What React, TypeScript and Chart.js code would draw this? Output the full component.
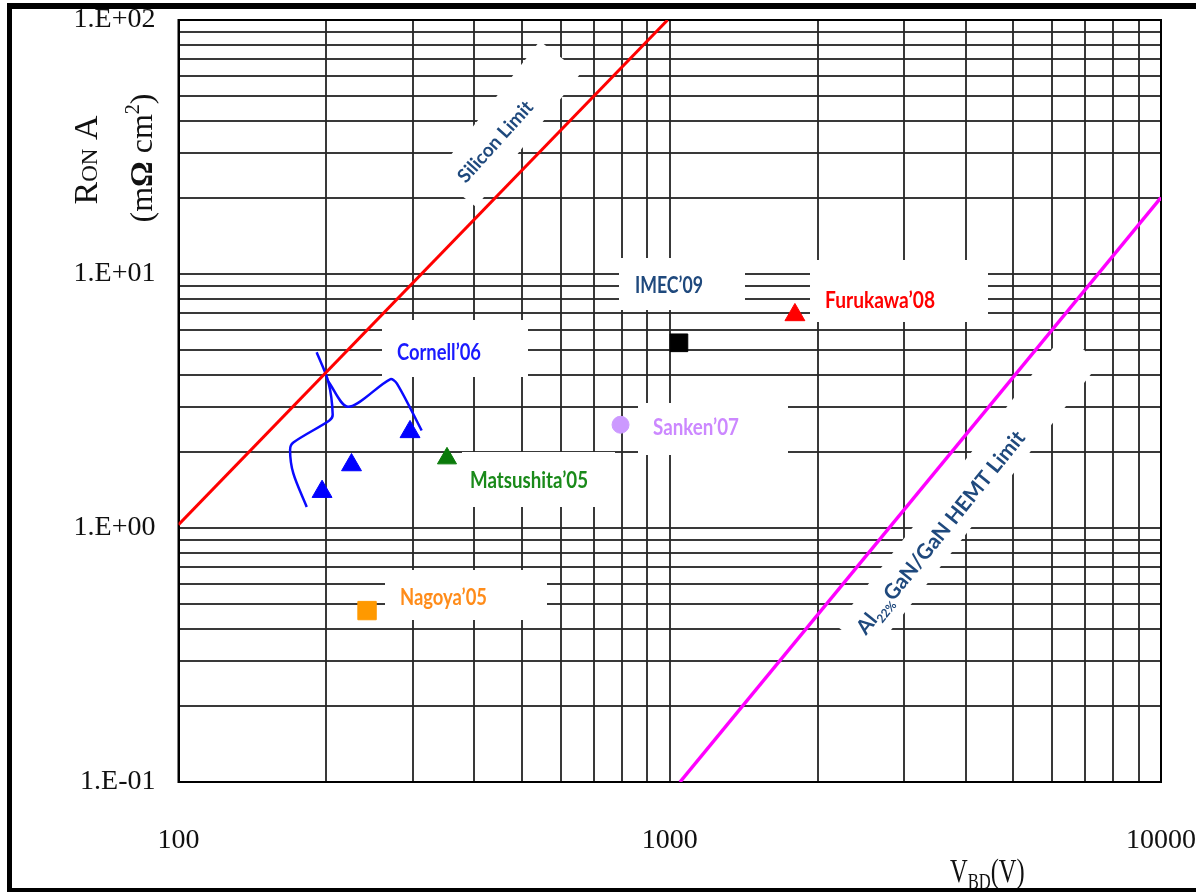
import React, { useEffect, useRef } from 'react';
import { Chart, registerables } from 'chart.js';

Chart.register(...registerables);

// ---------- axis ticks ----------
const xTickValues = [
  100, 200, 300, 400, 500, 600, 700, 800, 900,
  1000, 2000, 3000, 4000, 5000, 6000, 7000, 8000, 9000,
  10000,
];
const yTickValues = [
  0.1, 0.2, 0.3, 0.4, 0.5, 0.6, 0.7, 0.8, 0.9,
  1, 2, 3, 4, 5, 6, 7, 8, 9,
  10, 20, 30, 40, 50, 60, 70, 80, 90,
  100,
];

// ---------- series ----------
const siliconLimit = [
  { x: 100, y: 1.03 },
  { x: 990, y: 100 },
];
const ganLimit = [
  { x: 1049, y: 0.1 },
  { x: 10000, y: 20 },
];
const cornellCurveA = [
  { x: 191.1, y: 4.92 },
  { x: 201.8, y: 3.77 },
  { x: 206.0, y: 2.79 },
  { x: 202.8, y: 2.65 },
  { x: 171.3, y: 2.17 },
  { x: 168.7, y: 2.03 },
  { x: 171.3, y: 1.64 },
  { x: 182.4, y: 1.21 },
];
const cornellCurveB = [
  { x: 201.8, y: 3.77 },
  { x: 221.6, y: 3.0 },
  { x: 269.6, y: 3.85 },
  { x: 278.2, y: 3.71 },
  { x: 312.6, y: 2.42 },
];
const cornell = [
  { x: 196, y: 1.39 },
  { x: 225, y: 1.77 },
  { x: 296, y: 2.39 },
];
const matsushita = [{ x: 352, y: 1.88 }];
const furukawa = [{ x: 1798, y: 6.9 }];
const nagoya = [{ x: 242, y: 0.473 }];
const imec = [{ x: 1044, y: 5.36 }];
const sanken = [{ x: 794, y: 2.55 }];

// ---------- helpers ----------
type Seg = { t: string; font: string; dy?: number };

function drawSegs(
  ctx: CanvasRenderingContext2D,
  segs: Seg[],
  x: number,
  y: number,
  angle: number,
  color: string,
  align: 'center' | 'left',
  sx = 1,
  targetWidth?: number
) {
  ctx.save();
  ctx.translate(x, y);
  ctx.rotate(angle);
  ctx.fillStyle = color;
  ctx.textBaseline = 'alphabetic';
  ctx.textAlign = 'left';
  const widths = segs.map((s) => {
    ctx.font = s.font;
    return ctx.measureText(s.t).width;
  });
  const total = widths.reduce((a, b) => a + b, 0);
  const scaleX = targetWidth ? targetWidth / total : sx;
  ctx.scale(scaleX, 1);
  let cx = align === 'center' ? -total / 2 : 0;
  segs.forEach((s, i) => {
    ctx.font = s.font;
    ctx.fillText(s.t, cx, s.dy || 0);
    cx += widths[i];
  });
  ctx.restore();
}

const LBL = 'bold 23px Lato, "Open Sans", sans-serif';
const SERIF = '"Liberation Serif", "Times New Roman", serif';

const labelBoxes = [
  { x1: 382, y1: 320, x2: 528, y2: 377 },
  { x1: 462, y1: 452, x2: 615, y2: 507 },
  { x1: 385, y1: 570, x2: 547, y2: 620 },
  { x1: 619, y1: 258, x2: 745, y2: 310 },
  { x1: 810, y1: 260, x2: 988, y2: 322 },
  { x1: 638, y1: 403, x2: 788, y2: 455 },
];
const rotBoxes = [
  { cx: 508, cy: 124, len: 170, wid: 52, ang: -52 },
  { cx: 968, cy: 494, len: 370, wid: 46, ang: -52 },
];
const labels = [
  { text: 'Cornell\u201906', x: 439, y: 360, w: 84, color: '#1a1aff' },
  { text: 'Matsushita\u201905', x: 529, y: 488, w: 118, color: '#1a8a1a' },
  { text: 'Nagoya\u201905', x: 443.5, y: 605, w: 87, color: '#ff8c1a' },
  { text: 'IMEC\u201909', x: 669, y: 293, w: 68, color: '#1f497d' },
  { text: 'Furukawa\u201908', x: 880, y: 308, w: 110, color: '#ff0000' },
  { text: 'Sanken\u201907', x: 696, y: 435, w: 86, color: '#cc88ff' },
];

const annotPlugin = {
  id: 'annot',
  beforeDatasetsDraw(chart: any) {
    const ctx: CanvasRenderingContext2D = chart.ctx;
    const a = chart.chartArea;
    ctx.save();
    ctx.fillStyle = '#ffffff';
    labelBoxes.forEach((b) => ctx.fillRect(b.x1, b.y1, b.x2 - b.x1, b.y2 - b.y1));
    rotBoxes.forEach((b) => {
      ctx.save();
      ctx.translate(b.cx, b.cy);
      ctx.rotate((b.ang * Math.PI) / 180);
      ctx.fillRect(-b.len / 2, -b.wid / 2, b.len, b.wid);
      ctx.restore();
    });
    ctx.strokeStyle = '#000';
    ctx.lineWidth = 2;
    ctx.strokeRect(a.left, a.top, a.right - a.left, a.bottom - a.top);
    ctx.restore();
  },
  afterDatasetsDraw(chart: any) {
    const ctx: CanvasRenderingContext2D = chart.ctx;
    labels.forEach((l) =>
      drawSegs(ctx, [{ t: l.text, font: LBL }], l.x, l.y, 0, l.color, 'center', 1, l.w)
    );
    drawSegs(
      ctx,
      [{ t: 'Silicon Limit', font: 'bold 19px Lato, sans-serif' }],
      500,
      146,
      (-48 * Math.PI) / 180,
      '#1f497d',
      'center'
    );
    drawSegs(
      ctx,
      [
        { t: 'Al', font: 'bold 21px Lato, sans-serif' },
        { t: '22%', font: 'bold 12px Lato, sans-serif', dy: 5 },
        { t: 'GaN/GaN HEMT Limit', font: 'bold 21px Lato, sans-serif' },
      ],
      946,
      537,
      (-51 * Math.PI) / 180,
      '#1f497d',
      'center'
    );
  },
  afterDraw(chart: any) {
    const ctx: CanvasRenderingContext2D = chart.ctx;
    drawSegs(
      ctx,
      [
        { t: 'R', font: `34px ${SERIF}` },
        { t: 'ON', font: `23px ${SERIF}` },
        { t: ' A', font: `34px ${SERIF}` },
      ],
      97,
      160,
      -Math.PI / 2,
      '#111',
      'center'
    );
    drawSegs(
      ctx,
      [
        { t: '(m', font: `32px ${SERIF}` },
        { t: '\u03A9', font: `bold 32px ${SERIF}` },
        { t: ' cm', font: `32px ${SERIF}` },
        { t: '2', font: `20px ${SERIF}`, dy: -13 },
        { t: ')', font: `32px ${SERIF}` },
      ],
      152,
      158,
      -Math.PI / 2,
      '#111',
      'center'
    );
    drawSegs(
      ctx,
      [
        { t: 'V', font: `34px ${SERIF}` },
        { t: 'BD', font: `23px ${SERIF}`, dy: 7 },
        { t: '(V)', font: `34px ${SERIF}` },
      ],
      950,
      882,
      0,
      '#111',
      'left',
      0.72
    );
    ctx.save();
    ctx.fillStyle = '#000';
    ctx.fillRect(7, 3, 1189, 6);
    ctx.fillRect(7, 3, 5, 889);
    ctx.fillRect(7, 888, 1189, 4);
    ctx.restore();
  },
};

function isPow10(v: number) {
  const l = Math.log10(v);
  return Math.abs(l - Math.round(l)) < 1e-9;
}
function yLabel(v: number) {
  const e = Math.round(Math.log10(v));
  return `1.E${e >= 0 ? '+' : '-'}${String(Math.abs(e)).padStart(2, '0')}`;
}
function zeroPad(scale: any) {
  scale.paddingTop = 0;
  scale.paddingBottom = 0;
  scale.paddingLeft = 0;
  scale.paddingRight = 0;
}

export default function App() {
  const ref = useRef<HTMLCanvasElement | null>(null);
  useEffect(() => {
    if (!ref.current) return;
    const gridColor = 'rgba(40,40,40,0.92)';
    const chart = new Chart(ref.current, {
      type: 'scatter',
      data: {
        datasets: [
          {
            label: 'Silicon Limit',
            data: siliconLimit,
            showLine: true,
            borderColor: '#ff0000',
            borderWidth: 3,
            pointRadius: 0,
          },
          {
            label: 'AlGaN/GaN HEMT Limit',
            data: ganLimit,
            showLine: true,
            borderColor: '#ff00ff',
            borderWidth: 3.5,
            pointRadius: 0,
          },
          {
            label: 'Cornell curve A',
            data: cornellCurveA,
            showLine: true,
            borderColor: '#0a0aff',
            borderWidth: 2.5,
            pointRadius: 0,
            tension: 0.3,
          },
          {
            label: 'Cornell curve B',
            data: cornellCurveB,
            showLine: true,
            borderColor: '#0a0aff',
            borderWidth: 2.5,
            pointRadius: 0,
            tension: 0.3,
          },
          {
            label: "Cornell'06",
            data: cornell,
            pointStyle: 'triangle',
            pointRadius: 11.5,
            backgroundColor: '#0000ff',
            borderColor: '#0000ff',
            borderWidth: 1,
          },
          {
            label: "Matsushita'05",
            data: matsushita,
            pointStyle: 'triangle',
            pointRadius: 11,
            backgroundColor: '#0a7a0a',
            borderColor: '#0a7a0a',
            borderWidth: 1,
          },
          {
            label: "Furukawa'08",
            data: furukawa,
            pointStyle: 'triangle',
            pointRadius: 11.5,
            backgroundColor: '#ff0000',
            borderColor: '#ff0000',
            borderWidth: 1,
          },
          {
            label: "Nagoya'05",
            data: nagoya,
            pointStyle: 'rect',
            pointRadius: 13,
            backgroundColor: '#ff9900',
            borderColor: '#ff9900',
            borderWidth: 1,
          },
          {
            label: "IMEC'09",
            data: imec,
            pointStyle: 'rect',
            pointRadius: 12.5,
            backgroundColor: '#000000',
            borderColor: '#000000',
            borderWidth: 1,
          },
          {
            label: "Sanken'07",
            data: sanken,
            pointStyle: 'circle',
            pointRadius: 8.5,
            backgroundColor: '#cc99ff',
            borderColor: '#cc99ff',
            borderWidth: 1,
          },
        ],
      },
      options: {
        animation: false,
        responsive: false,
        devicePixelRatio: 1,
        layout: { padding: { left: 0, top: 20, right: 35, bottom: 0 } },
        plugins: {
          legend: { display: false },
          tooltip: { enabled: false },
          title: { display: false },
        },
        scales: {
          x: {
            type: 'logarithmic',
            position: 'bottom',
            min: 100,
            max: 10000,
            afterBuildTicks: (scale: any) => {
              scale.ticks = xTickValues.map((v) => ({ value: v, major: isPow10(v) }));
            },
            afterFit: (scale: any) => {
              scale.height = 110;
              zeroPad(scale);
            },
            grid: { color: gridColor, lineWidth: 2, drawTicks: false },
            border: { display: true, color: '#000', width: 2 },
            ticks: {
              autoSkip: false,
              maxRotation: 0,
              minRotation: 0,
              padding: 42,
              color: '#111',
              font: { family: SERIF, size: 28 },
              callback: (v: any) => (isPow10(Number(v)) ? String(Math.round(Number(v))) : ''),
            },
          },
          y: {
            type: 'logarithmic',
            position: 'left',
            min: 0.1,
            max: 100,
            afterBuildTicks: (scale: any) => {
              scale.ticks = yTickValues.map((v) => ({ value: v, major: isPow10(v) }));
            },
            afterFit: (scale: any) => {
              scale.width = 178.5;
              zeroPad(scale);
            },
            grid: { color: gridColor, lineWidth: 2, drawTicks: false },
            border: { display: true, color: '#000', width: 2 },
            ticks: {
              autoSkip: false,
              padding: 23,
              color: '#111',
              font: { family: SERIF, size: 28 },
              callback: (v: any) => (isPow10(Number(v)) ? yLabel(Number(v)) : ''),
            },
          },
        },
      },
      plugins: [annotPlugin],
    } as any);
    return () => chart.destroy();
  }, []);

  return (
    <div
      style={{
        position: 'absolute',
        left: 0,
        top: 0,
        width: 1196,
        height: 892,
        background: '#ffffff',
      }}
    >
      <canvas ref={ref} width={1196} height={892} style={{ display: 'block' }} />
    </div>
  );
}
